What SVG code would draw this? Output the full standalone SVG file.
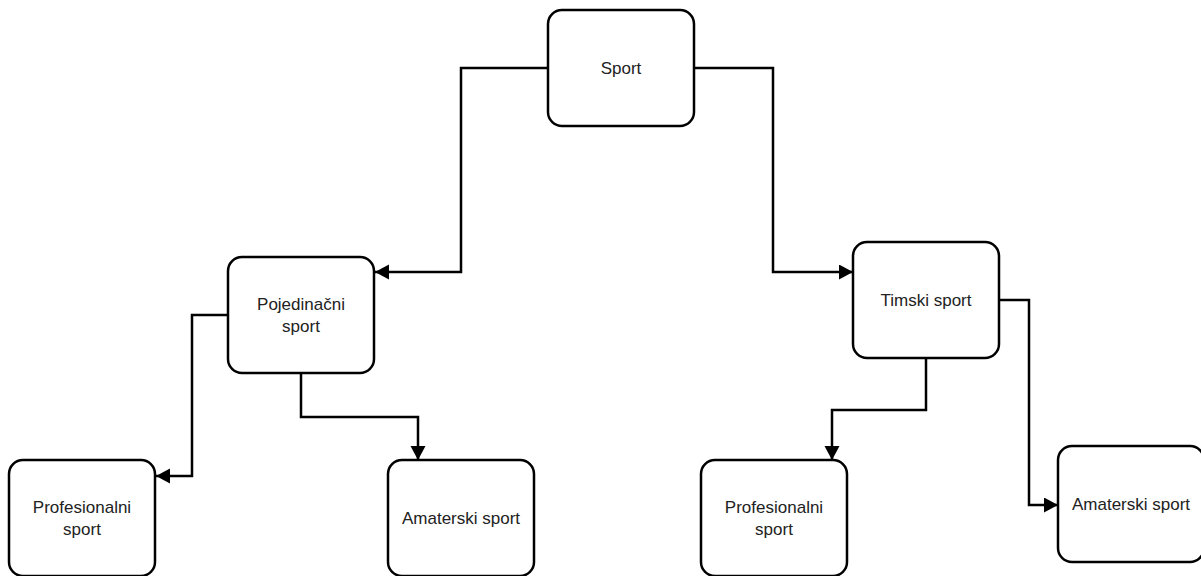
<svg xmlns="http://www.w3.org/2000/svg" width="1201" height="576" viewBox="0 0 1201 576">
<style>
.box{fill:#fff;stroke:#000;stroke-width:2.5}
.lbl{font-family:"Liberation Sans",Arial,sans-serif;font-size:17px;fill:#222;text-anchor:middle;dominant-baseline:central}
.edge{fill:none;stroke:#000;stroke-width:2.5;marker-end:url(#arr)}
</style>
<defs>
<marker id="arr" markerUnits="userSpaceOnUse" markerWidth="16" markerHeight="16" refX="14" refY="7.5" orient="auto">
<path d="M0,0 L14,7.5 L0,15 z" fill="#000"/>
</marker>
</defs>
<rect width="1201" height="576" fill="#fff"/>
<g id="connectors">
<path class="edge" d="M548,68 H461 V272 H375"/>
<path class="edge" d="M694,68 H773 V272 H853"/>
<path class="edge" d="M228,315 H192 V476 H156"/>
<path class="edge" d="M301,373 V417 H418 V460"/>
<path class="edge" d="M926,358 V410 H832 V460"/>
<path class="edge" d="M999,300 H1029 V505 H1058"/>
</g>
<g id="sport"><rect class="box" x="548" y="10" width="146" height="116" rx="14"/><text class="lbl" x="621" y="68">Sport</text></g>
<g id="pojedinacni"><rect class="box" x="228" y="257" width="146" height="116" rx="14"/><text class="lbl" x="301" y="304">Pojedinačni</text><text class="lbl" x="301" y="326">sport</text></g>
<g id="timski"><rect class="box" x="853" y="242" width="146" height="116" rx="14"/><text class="lbl" x="926" y="300">Timski sport</text></g>
<g id="prof-left"><rect class="box" x="9" y="460" width="146" height="116" rx="14"/><text class="lbl" x="82" y="507">Profesionalni</text><text class="lbl" x="82" y="529">sport</text></g>
<g id="amat-left"><rect class="box" x="388" y="460" width="146" height="116" rx="14"/><text class="lbl" x="461" y="518">Amaterski sport</text></g>
<g id="prof-right"><rect class="box" x="701" y="460" width="146" height="116" rx="14"/><text class="lbl" x="774" y="507">Profesionalni</text><text class="lbl" x="774" y="529">sport</text></g>
<g id="amat-right"><rect class="box" x="1058" y="446" width="146" height="116" rx="14"/><text class="lbl" x="1131" y="504">Amaterski sport</text></g>
</svg>
